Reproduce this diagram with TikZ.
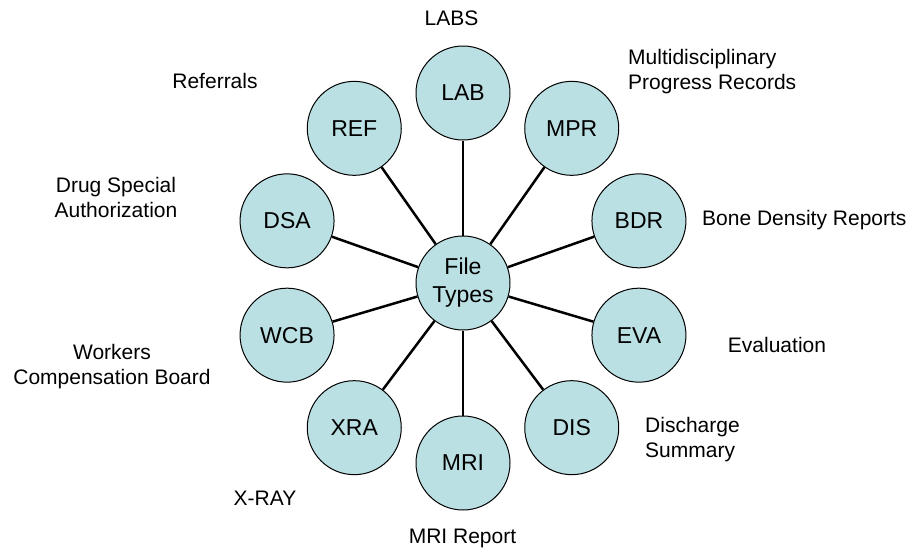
\documentclass[tikz,border=0pt]{standalone}
\usepackage{fontspec}
\setmainfont{Liberation Sans}
\usepackage{tikz}
\definecolor{paleteal}{RGB}{187,224,227}

\begin{document}
\begin{tikzpicture}[x=1pt,y=-1pt,
    ftype/.style={circle,draw=black,line width=1pt,fill=paleteal,minimum size=94pt,inner sep=0pt,font=\fontsize{23}{28}\selectfont},
    fdesc/.style={font=\fontsize{21}{24.5}\selectfont,inner sep=0pt},
    spoke/.style={line width=2.5pt}]
    \useasboundingbox (0,0) rectangle (918,552);
    \coordinate (hub) at (463,278);
    \node[ftype,align=center] (ft) at (463,283) {File\\Types};
    \foreach \n/\a/\t in {lab/90/LAB,mpr/54/MPR,bdr/18/BDR,eva/-18/EVA,dis/-54/DIS,mri/-90/MRI,xra/-126/XRA,wcb/-162/WCB,dsa/162/DSA,ref/126/REF}
    \node[ftype] (\n) at ([shift={(\a:185pt)}]hub) {\t};
    \foreach \n in {lab,mpr,bdr,eva,dis,mri,xra,wcb,dsa,ref}
    \draw[spoke] (ft) -- (\n);
    % descriptions
    \node[fdesc,anchor=base] (labs) at (451.5,25) {LABS};
    \node[fdesc,anchor=base] (refs) at (215,88) {Referrals};
    \node[fdesc,anchor=base west,align=left] (mprs) at (628,89) {Multidisciplinary\\Progress Records};
    \node[fdesc,anchor=base west] (bdrs) at (702,225) {Bone Density Reports};
    \node[fdesc,anchor=base] (evas) at (777,352) {Evaluation};
    \node[fdesc,anchor=base west,align=left] (diss) at (645,457) {Discharge\\Summary};
    \node[fdesc,anchor=base] (mris) at (462.5,543) {MRI Report};
    \node[fdesc,anchor=base] (xras) at (265,505) {X-RAY};
    \node[fdesc,anchor=base,align=center] (wcbs) at (112,384) {Workers\\Compensation Board};
    \node[fdesc,anchor=base,align=center] (dsas) at (116,217) {Drug Special\\Authorization};
\end{tikzpicture}
\end{document}
